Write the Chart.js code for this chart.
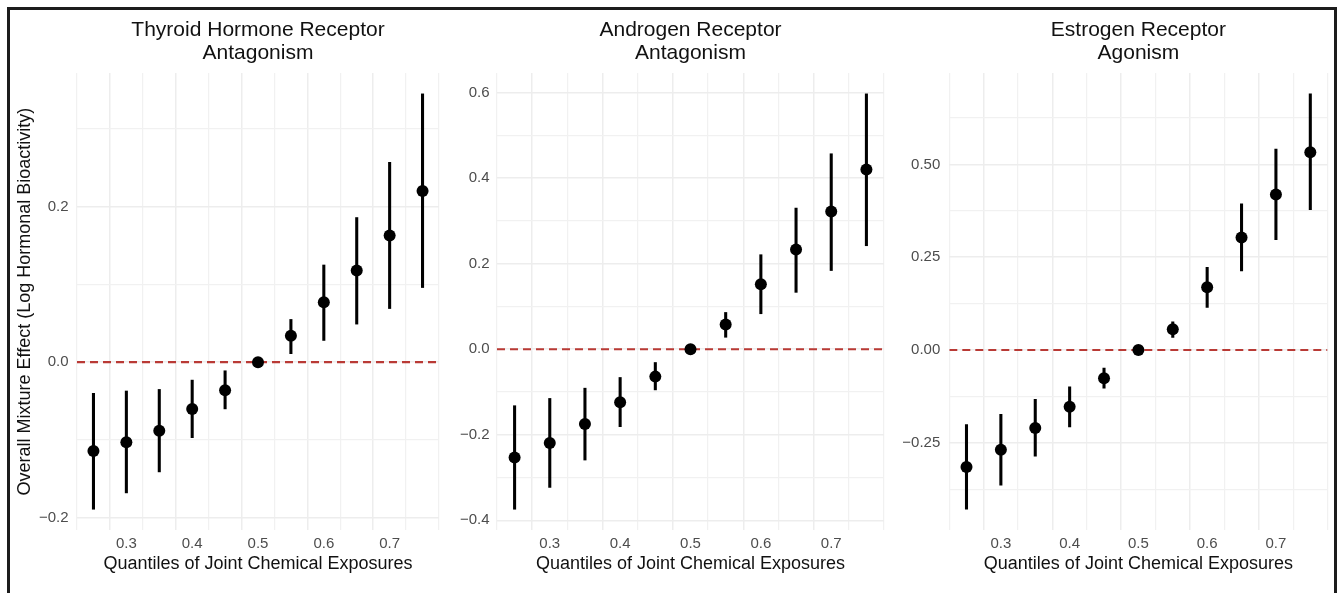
<!DOCTYPE html>
<html>
<head>
<meta charset="utf-8">
<script src="https://cdn.jsdelivr.net/npm/chart.js@4/dist/chart.umd.min.js"></script>
<style>
html,body{margin:0;padding:0;background:#fff;width:1342px;height:593px;overflow:hidden;}
.panel{position:absolute;top:0;height:593px;}
.panel canvas{display:block;}
#frame{position:absolute;left:7px;top:7px;width:1324px;height:600px;border:3px solid #1c1c1c;pointer-events:none;}
</style>
</head>
<body>
<div class="panel" style="left:0px;width:445px"><canvas id="c1" width="445" height="593"></canvas></div>
<div class="panel" style="left:445px;width:445px"><canvas id="c2" width="445" height="593"></canvas></div>
<div class="panel" style="left:890px;width:452px"><canvas id="c3" width="452" height="593"></canvas></div>
<div id="frame"></div>
<script>
// ---- data ----
const quantiles = [0.25, 0.30, 0.35, 0.40, 0.45, 0.50, 0.55, 0.60, 0.65, 0.70, 0.75];
const xLabelTicks = [0.3, 0.4, 0.5, 0.6, 0.7];
const xTitle = 'Quantiles of Joint Chemical Exposures';
const yTitle = 'Overall Mixture Effect (Log Hormonal Bioactivity)';

const thyroidTitle = ['Thyroid Hormone Receptor', 'Antagonism'];
const thyroidEst  = [-0.114, -0.103, -0.088, -0.060, -0.036, 0, 0.034, 0.077, 0.118, 0.163, 0.220];
const thyroidLow  = [-0.189, -0.168, -0.141, -0.097, -0.060, 0, 0.011, 0.028, 0.049, 0.069, 0.096];
const thyroidHigh = [-0.040, -0.037, -0.035, -0.023, -0.011, 0, 0.055, 0.125, 0.186, 0.257, 0.345];
const thyroidGridTicks  = [-0.2, -0.1, 0, 0.1, 0.2, 0.3];
const thyroidLabelTicks = [-0.2, 0, 0.2];

const androgenTitle = ['Androgen Receptor', 'Antagonism'];
const androgenEst  = [-0.253, -0.219, -0.175, -0.124, -0.064, 0, 0.058, 0.152, 0.233, 0.322, 0.420];
const androgenLow  = [-0.374, -0.323, -0.259, -0.181, -0.095, 0, 0.028, 0.083, 0.133, 0.184, 0.242];
const androgenHigh = [-0.132, -0.115, -0.091, -0.066, -0.031, 0, 0.086, 0.221, 0.330, 0.457, 0.597];
const androgenGridTicks  = [-0.4, -0.3, -0.2, -0.1, 0, 0.1, 0.2, 0.3, 0.4, 0.5, 0.6];
const androgenLabelTicks = [-0.4, -0.2, 0, 0.2, 0.4, 0.6];

const estrogenTitle = ['Estrogen Receptor', 'Agonism'];
const estrogenEst  = [-0.315, -0.269, -0.210, -0.153, -0.076, 0, 0.056, 0.169, 0.303, 0.419, 0.533];
const estrogenLow  = [-0.429, -0.364, -0.286, -0.207, -0.103, 0, 0.034, 0.115, 0.213, 0.297, 0.378];
const estrogenHigh = [-0.201, -0.173, -0.133, -0.099, -0.049, 0, 0.076, 0.223, 0.394, 0.541, 0.690];
const estrogenGridTicks  = [-0.375, -0.25, -0.125, 0, 0.125, 0.25, 0.375, 0.5, 0.625];
const estrogenLabelTicks = [-0.25, 0, 0.25, 0.5];

// ---- helpers ----
const FONT = "'Liberation Sans', Arial, Helvetica, sans-serif";
function expandRange(lo, hi) { const r = hi - lo; return [lo - 0.05 * r, hi + 0.05 * r]; }
function has(arr, v) { return arr.some(a => Math.abs(a - v) < 1e-9); }
function fmt(v, d) { return (v < -1e-9 ? '\u2212' : '') + Math.abs(v).toFixed(d); }
function isMajor(c, arr) { return !!(c && c.tick && has(arr, c.tick.value)); }

function makePanel(id, o) {
  const [xMin, xMax] = expandRange(Math.min(...quantiles), Math.max(...quantiles));
  const [yMin, yMax] = expandRange(Math.min(...o.low), Math.max(...o.high));
  new Chart(document.getElementById(id), {
    type: 'scatter',
    data: {
      datasets: [
        { type: 'scatter', data: quantiles.map((q, i) => ({ x: q, y: o.est[i] })),
          pointRadius: 6, pointBackgroundColor: '#000', pointBorderWidth: 0, order: 0 },
        { type: 'bar', data: quantiles.map((q, i) => ({ x: q, y: [o.low[i], o.high[i]] })),
          backgroundColor: '#000', borderWidth: 0, barThickness: 2.4, order: 1 },
        { type: 'line', data: [{ x: xMin, y: 0 }, { x: xMax, y: 0 }],
          borderColor: '#b93a35', borderWidth: 2.2, borderDash: [8, 5], pointRadius: 0, fill: false, order: 2 }
      ]
    },
    options: {
      responsive: false, animation: false, events: [],
      layout: { padding: { left: 0, right: o.padRight, top: 0, bottom: 0 } },
      plugins: {
        legend: { display: false }, tooltip: { enabled: false },
        title: { display: true, text: o.title, fullSize: false, color: '#111',
          font: { family: FONT, size: 21, weight: 'normal', lineHeight: 1.1 },
          padding: { top: 18.6, bottom: 8.3 } }
      },
      scales: {
        x: {
          type: 'linear', min: xMin, max: xMax, offset: false,
          afterBuildTicks: s => { s.ticks = quantiles.map(v => ({ value: v })); },
          afterFit: s => { s.height = 63; },
          border: { display: false },
          grid: { drawTicks: false,
            color: c => isMajor(c, xLabelTicks) ? '#ededed' : '#f1f1f1',
            lineWidth: c => isMajor(c, xLabelTicks) ? 1.5 : 1.2 },
          ticks: { autoSkip: false, maxRotation: 0, padding: 5, color: '#4d4d4d',
            font: { family: FONT, size: 15 },
            callback: v => has(xLabelTicks, v) ? fmt(v, 1) : '' },
          title: { display: true, text: xTitle, color: '#111',
            font: { family: FONT, size: 18 }, padding: { top: 0, bottom: 18.5 } }
        },
        y: {
          type: 'linear', min: yMin, max: yMax,
          afterBuildTicks: s => { s.ticks = o.gridTicks.map(v => ({ value: v })); },
          afterFit: s => { s.width = o.yWidth; },
          border: { display: false },
          grid: { drawTicks: false,
            color: c => isMajor(c, o.labelTicks) ? '#ededed' : '#f1f1f1',
            lineWidth: c => isMajor(c, o.labelTicks) ? 1.5 : 1.2 },
          ticks: { autoSkip: false, padding: o.tickPad, color: '#4d4d4d',
            font: { family: FONT, size: 15 },
            callback: v => has(o.labelTicks, v) ? fmt(v, o.decimals) : '' },
          title: { display: o.showYTitle, text: yTitle, color: '#111',
            font: { family: FONT, size: 18 }, padding: { top: 14, bottom: 0 } }
        }
      }
    }
  });
}

makePanel('c1', { title: thyroidTitle, est: thyroidEst, low: thyroidLow, high: thyroidHigh,
  gridTicks: thyroidGridTicks, labelTicks: thyroidLabelTicks, decimals: 1,
  yWidth: 77, padRight: 2, tickPad: 8.5, showYTitle: true });
makePanel('c2', { title: androgenTitle, est: androgenEst, low: androgenLow, high: androgenHigh,
  gridTicks: androgenGridTicks, labelTicks: androgenLabelTicks, decimals: 1,
  yWidth: 52, padRight: 5, tickPad: 7.5, showYTitle: false });
makePanel('c3', { title: estrogenTitle, est: estrogenEst, low: estrogenLow, high: estrogenHigh,
  gridTicks: estrogenGridTicks, labelTicks: estrogenLabelTicks, decimals: 2,
  yWidth: 59.3, padRight: 14.5, tickPad: 9, showYTitle: false });
</script>
</body>
</html>
